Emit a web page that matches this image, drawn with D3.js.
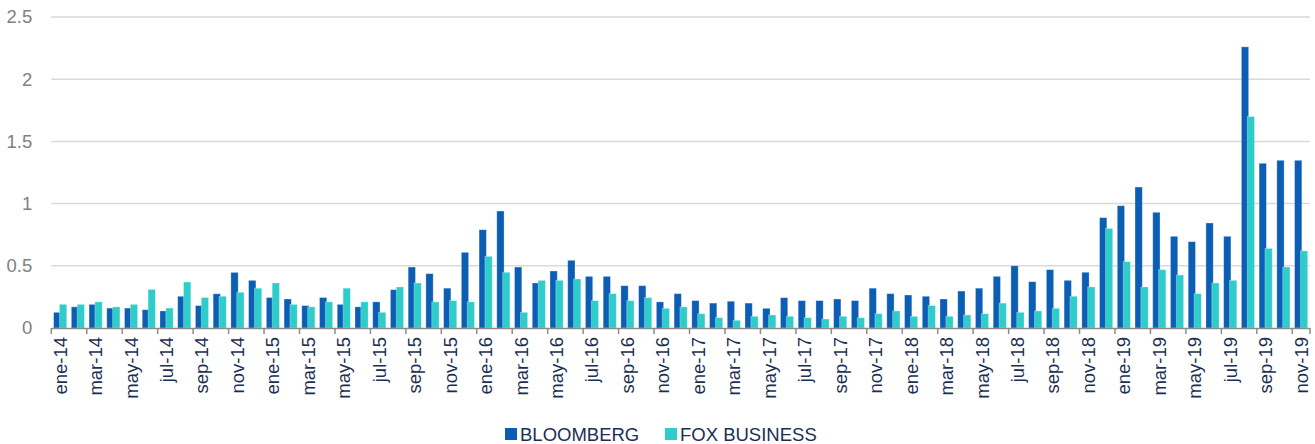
<!DOCTYPE html>
<html lang="es">
<head>
<meta charset="UTF-8">
<title>Bloomberg vs Fox Business</title>
<script src="https://cdnjs.cloudflare.com/ajax/libs/d3/7.8.5/d3.min.js"></script>
<style>
    * { margin: 0; padding: 0; box-sizing: border-box; }
    body { background: #fff; font-family: "Liberation Sans", Arial, sans-serif; }
    #chart { width: 1315px; height: 444px; }
</style>
</head>
<body>
<div id="chart"></div>
<script>
    const months = [
        'ene-14','feb-14','mar-14','abr-14','may-14','jun-14','jul-14','ago-14','sep-14','oct-14','nov-14','dic-14',
        'ene-15','feb-15','mar-15','abr-15','may-15','jun-15','jul-15','ago-15','sep-15','oct-15','nov-15','dic-15',
        'ene-16','feb-16','mar-16','abr-16','may-16','jun-16','jul-16','ago-16','sep-16','oct-16','nov-16','dic-16',
        'ene-17','feb-17','mar-17','abr-17','may-17','jun-17','jul-17','ago-17','sep-17','oct-17','nov-17','dic-17',
        'ene-18','feb-18','mar-18','abr-18','may-18','jun-18','jul-18','ago-18','sep-18','oct-18','nov-18','dic-18',
        'ene-19','feb-19','mar-19','abr-19','may-19','jun-19','jul-19','ago-19','sep-19','oct-19','nov-19'
    ];

    const bloomberg = [
        0.126, 0.17, 0.19, 0.16, 0.16, 0.147, 0.137, 0.255, 0.18, 0.275, 0.447, 0.383,
        0.245, 0.233, 0.18, 0.245, 0.19, 0.17, 0.21, 0.308, 0.49, 0.437, 0.32, 0.608,
        0.79, 0.94, 0.49, 0.362, 0.458, 0.544, 0.415, 0.415, 0.34, 0.34, 0.21, 0.276,
        0.22, 0.2, 0.215, 0.2, 0.158, 0.244, 0.22, 0.22, 0.233, 0.22, 0.32, 0.276,
        0.265, 0.255, 0.233, 0.297, 0.32, 0.415, 0.5, 0.372, 0.469, 0.383, 0.448, 0.887,
        0.983, 1.133, 0.93, 0.737, 0.694, 0.844, 0.737, 2.26, 1.324, 1.348, 1.348
    ];

    const foxBusiness = [
        0.19, 0.19, 0.21, 0.17, 0.19, 0.31, 0.16, 0.37, 0.245, 0.255, 0.287, 0.32,
        0.362, 0.19, 0.17, 0.21, 0.32, 0.21, 0.126, 0.33, 0.362, 0.21, 0.22, 0.21,
        0.576, 0.448, 0.126, 0.383, 0.383, 0.394, 0.22, 0.276, 0.22, 0.244, 0.158, 0.17,
        0.115, 0.083, 0.062, 0.094, 0.105, 0.094, 0.083, 0.072, 0.094, 0.083, 0.115, 0.137,
        0.094, 0.18, 0.094, 0.105, 0.115, 0.2, 0.126, 0.137, 0.158, 0.255, 0.33, 0.80,
        0.533, 0.33, 0.469, 0.426, 0.276, 0.362, 0.383, 1.70, 0.64, 0.49, 0.62
    ];

    const yTicks = [0, 0.5, 1, 1.5, 2, 2.5];
    const seriesNames = ['BLOOMBERG', 'FOX BUSINESS'];
    const colors = ['#0b5eb4', '#2ecdcb'];

    const width = 1315, height = 444;
    const margin = { left: 51.3, right: 1310, top: 17, bottom: 328 };
    const fontFamily = '"Liberation Sans", Arial, sans-serif';

    const svg = d3.select('#chart').append('svg')
        .attr('width', width)
        .attr('height', height);

    const x = d3.scaleBand().domain(months).range([margin.left, margin.right]).padding(0);
    const y = d3.scaleLinear().domain([0, 2.5]).range([margin.bottom, margin.top]);
    const bw = x.bandwidth();

    // gridlines
    svg.append('g')
        .selectAll('line')
        .data(yTicks.filter(d => d > 0))
        .join('line')
        .attr('x1', margin.left)
        .attr('x2', margin.right)
        .attr('y1', d => y(d))
        .attr('y2', d => y(d))
        .attr('stroke', '#d9d9d9')
        .attr('stroke-width', 1.5);

    // y labels
    const yAxis = svg.append('g')
        .attr('transform', `translate(${margin.left - 16},0)`)
        .call(d3.axisLeft(y).tickValues(yTicks).tickFormat(d => String(d)).tickSize(0));
    yAxis.select('.domain').remove();
    yAxis.selectAll('text')
        .attr('font-family', fontFamily)
        .attr('font-size', 18.5)
        .attr('fill', '#808080');

    // bars
    const series = [bloomberg, foxBusiness];
    const offsets = [0.13, 0.46];
    series.forEach((vals, i) => {
        svg.append('g')
            .selectAll('rect')
            .data(vals)
            .join('rect')
            .attr('x', (d, j) => x(months[j]) + bw * offsets[i])
            .attr('y', d => y(d))
            .attr('width', bw * 0.41)
            .attr('height', d => y(0) - y(d))
            .attr('fill', colors[i])
            .attr('stroke', 'rgba(255,255,255,0.35)')
            .attr('stroke-width', 0.8);
    });

    // x axis
    const xAxis = svg.append('g')
        .attr('transform', `translate(0,${margin.bottom})`)
        .call(d3.axisBottom(x)
            .tickValues(months.filter((d, i) => i % 2 === 0))
            .tickSize(0)
            .tickPadding(0));
    xAxis.select('.domain')
        .attr('stroke', '#8c8c8c')
        .attr('stroke-width', 1.5);
    xAxis.selectAll('.tick text')
        .attr('transform', 'rotate(-90)')
        .attr('text-anchor', 'end')
        .attr('x', -9)
        .attr('y', 0)
        .attr('dy', '0.35em')
        .attr('font-family', fontFamily)
        .attr('font-size', 18.5)
        .attr('fill', '#1c2f52');

    // tick marks on category boundaries
    svg.append('g')
        .selectAll('line')
        .data(months.filter((d, i) => i % 2 === 0).concat(['end']))
        .join('line')
        .attr('x1', d => d === 'end' ? margin.right : x(d))
        .attr('x2', d => d === 'end' ? margin.right : x(d))
        .attr('y1', margin.bottom)
        .attr('y2', margin.bottom + 6)
        .attr('stroke', '#8c8c8c')
        .attr('stroke-width', 1.5);

    // legend
    const legendX = [505, 665];
    const legend = svg.append('g');
    seriesNames.forEach((name, i) => {
        legend.append('rect')
            .attr('x', legendX[i])
            .attr('y', 428)
            .attr('width', 12)
            .attr('height', 12)
            .attr('fill', colors[i]);
        legend.append('text')
            .attr('x', legendX[i] + 15)
            .attr('y', 441)
            .attr('font-family', fontFamily)
            .attr('font-size', 18.5)
            .attr('fill', '#1c2f52')
            .text(name);
    });
</script>
</body>
</html>
